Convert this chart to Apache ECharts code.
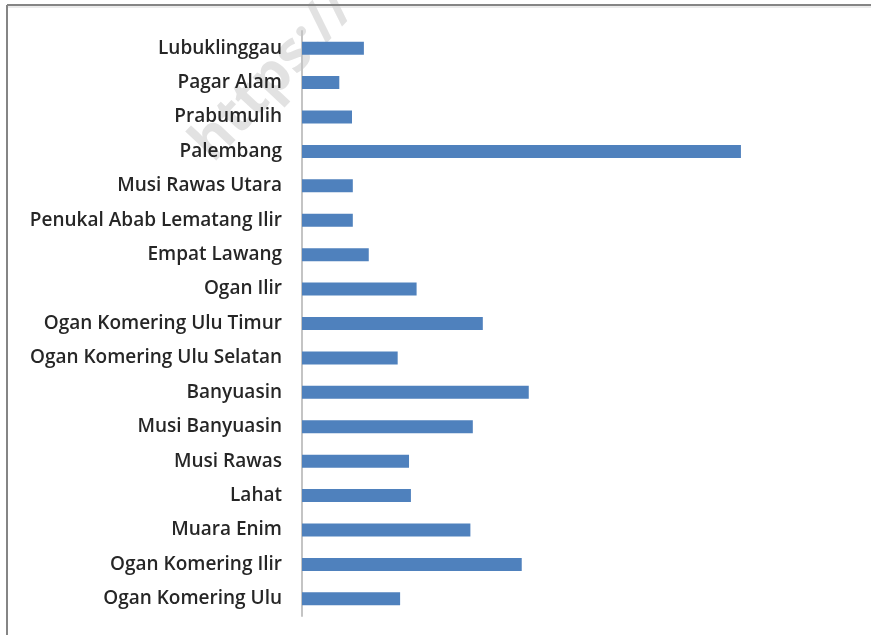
<!DOCTYPE html>
<html>
<head>
<meta charset="utf-8">
<script src="https://cdn.jsdelivr.net/npm/echarts@6/dist/echarts.min.js"></script>
<style>
html,body{margin:0;padding:0;background:#fff;}
#chart{width:871px;height:635px;}
</style>
</head>
<body>
<div id="chart"></div>
<script>
var categories = ["Lubuklinggau","Pagar Alam","Prabumulih","Palembang","Musi Rawas Utara","Penukal Abab Lematang Ilir","Empat Lawang","Ogan Ilir","Ogan Komering Ulu Timur","Ogan Komering Ulu Selatan","Banyuasin","Musi Banyuasin","Musi Rawas","Lahat","Muara Enim","Ogan Komering Ilir","Ogan Komering Ulu"];
var values = [229, 138, 185, 1624, 188, 188, 247, 424, 669, 354, 839, 632, 396, 403, 623, 813, 363];

var chart = echarts.init(document.getElementById('chart'));
chart.setOption({
  animation: false,
  backgroundColor: '#ffffff',
  grid: {left: 302, top: 31, bottom: 19, width: 486.5, containLabel: false},
  xAxis: {
    type: 'value', min: 0, max: 1800, show: false
  },
  yAxis: {
    type: 'category', data: categories, inverse: true,
    axisLine: {show: true, lineStyle: {color: '#c4c4c4', width: 2}},
    axisTick: {show: false},
    axisLabel: {color: '#262626', fontFamily: 'Open Sans', fontSize: 19, fontWeight: 600, margin: 20}
  },
  series: [{
    type: 'bar', data: values, barWidth: 13,
    itemStyle: {color: '#4f81bd'}
  }],
  graphic: [
    {type: 'text', x: 222, y: 172, rotation: Math.PI * 0.26, silent: true, z: -1,
     style: {text: 'https://', fill: '#e2e2e2', font: 'bold 56px "Open Sans"', textVerticalAlign: 'bottom'}},
    {type: 'line', shape: {x1: 7, y1: 5, x2: 871, y2: 5}, style: {stroke: '#858585', lineWidth: 2}},
    {type: 'line', shape: {x1: 7, y1: 7, x2: 871, y2: 7}, style: {stroke: '#d8d8d8', lineWidth: 1}},
    {type: 'line', shape: {x1: 7, y1: 5, x2: 7, y2: 635}, style: {stroke: '#858585', lineWidth: 2}}
  ]
});
</script>
</body>
</html>
